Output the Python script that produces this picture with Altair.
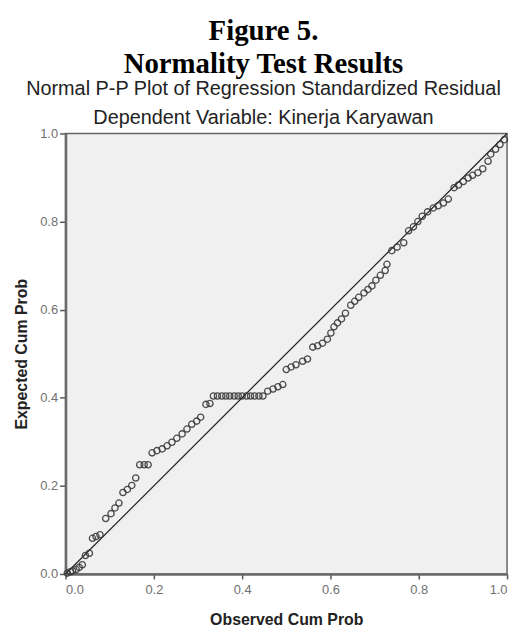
import altair as alt
import pandas as pd

observed = [0.004, 0.011, 0.016, 0.024, 0.031, 0.038, 0.045, 0.054, 0.061, 0.069,
            0.078, 0.091, 0.103, 0.112, 0.121, 0.130, 0.140, 0.150, 0.159, 0.168,
            0.178, 0.187, 0.196, 0.207, 0.219, 0.230, 0.241, 0.252, 0.264, 0.275,
            0.286, 0.297, 0.306, 0.318, 0.327,
            0.335, 0.344, 0.354, 0.363, 0.372, 0.382, 0.391, 0.400, 0.410, 0.419,
            0.428, 0.438, 0.447,
            0.458, 0.470, 0.481, 0.492, 0.500, 0.511, 0.522, 0.537, 0.548, 0.560,
            0.571, 0.582, 0.593, 0.601, 0.608, 0.616, 0.625, 0.634, 0.646, 0.655,
            0.664, 0.676, 0.685, 0.694, 0.703, 0.713, 0.724, 0.728, 0.739, 0.751,
            0.766, 0.777, 0.788, 0.798, 0.808, 0.820, 0.833, 0.844, 0.856, 0.867,
            0.880, 0.890, 0.901, 0.912, 0.922, 0.934, 0.945, 0.957, 0.963, 0.974,
            0.984, 0.994]
expected = [0.002, 0.005, 0.007, 0.010, 0.015, 0.021, 0.042, 0.047, 0.081, 0.085,
            0.089, 0.126, 0.137, 0.150, 0.161, 0.185, 0.192, 0.201, 0.218, 0.248,
            0.248, 0.248, 0.275, 0.280, 0.284, 0.291, 0.299, 0.308, 0.318, 0.329,
            0.340, 0.347, 0.356, 0.385, 0.387,
            0.404, 0.404, 0.404, 0.404, 0.404, 0.404, 0.404, 0.404, 0.404, 0.404,
            0.404, 0.404, 0.404,
            0.415, 0.420, 0.425, 0.430, 0.464, 0.470, 0.475, 0.483, 0.488, 0.515,
            0.518, 0.524, 0.533, 0.547, 0.561, 0.570, 0.579, 0.592, 0.610, 0.619,
            0.628, 0.638, 0.646, 0.654, 0.667, 0.678, 0.689, 0.703, 0.734, 0.742,
            0.752, 0.779, 0.788, 0.800, 0.812, 0.822, 0.831, 0.836, 0.842, 0.851,
            0.877, 0.883, 0.891, 0.899, 0.905, 0.911, 0.920, 0.937, 0.953, 0.964,
            0.975, 0.986]

ref_x = [0.0, 1.0]
ref_y = [0.0, 1.0]
ticks = [0.0, 0.2, 0.4, 0.6, 0.8, 1.0]

title_lines = ["Figure 5.", "Normality Test Results"]
subtitle_lines = ["Normal P-P Plot of Regression Standardized Residual",
                  "Dependent Variable: Kinerja Karyawan"]

pts = pd.DataFrame({"obs": observed, "exp": expected})
ref = pd.DataFrame({"obs": ref_x, "exp": ref_y})

xs = alt.Scale(domain=[0, 1], nice=False, zero=False)
ys = alt.Scale(domain=[0, 1], nice=False, zero=False)

xaxis = alt.Axis(values=ticks, format=".1f", grid=False, title="Observed Cum Prob",
                 domainColor="#6a6a6a", domainWidth=2.5, tickColor="#555", tickWidth=1.5,
                 tickSize=5, labelColor="#707070", labelFontSize=13, labelPadding=5,
                 labelFont="Liberation Sans", titleFont="Liberation Sans",
                 titleFontSize=16, titleFontWeight="bold", titleColor="#222",
                 titlePadding=15)
yaxis = alt.Axis(values=ticks, format=".1f", grid=False, title="Expected Cum Prob",
                 domainColor="#6a6a6a", domainWidth=2.5, tickColor="#555", tickWidth=1.5,
                 tickSize=6, labelColor="#707070", labelFontSize=13, labelPadding=2,
                 labelFont="Liberation Sans", titleFont="Liberation Sans",
                 titleFontSize=16, titleFontWeight="bold", titleColor="#222",
                 titlePadding=10)

line = alt.Chart(ref).mark_line(color="#222", strokeWidth=1.2).encode(
    x=alt.X("obs:Q", scale=xs, axis=xaxis),
    y=alt.Y("exp:Q", scale=ys, axis=yaxis),
)

points = alt.Chart(pts).mark_point(shape="circle", filled=False, color="#3a3a3a",
                                   size=40, strokeWidth=1.3, opacity=0.9).encode(
    x=alt.X("obs:Q", scale=xs, axis=xaxis),
    y=alt.Y("exp:Q", scale=ys, axis=yaxis),
)

chart = alt.layer(line, points).properties(
    width=445,
    height=444,
    autosize=alt.AutoSizeParams(type="none"),
    padding={"left": 58, "top": 124, "right": 6, "bottom": 56},
    title=alt.TitleParams(
        text=title_lines,
        subtitle=subtitle_lines,
        font="Liberation Serif", fontSize=29, fontWeight="bold", color="#000",
        lineHeight=33,
        subtitleFont="Liberation Sans", subtitleFontSize=20, subtitleColor="#222",
        subtitleLineHeight=29, subtitlePadding=0,
        anchor="middle", dx=-23, offset=0,
    ),
).configure_view(
    fill="#f0f0f0", stroke="#666", strokeWidth=1.5,
)

chart.save("out.html", embed_options={"renderer": "svg", "actions": False})
